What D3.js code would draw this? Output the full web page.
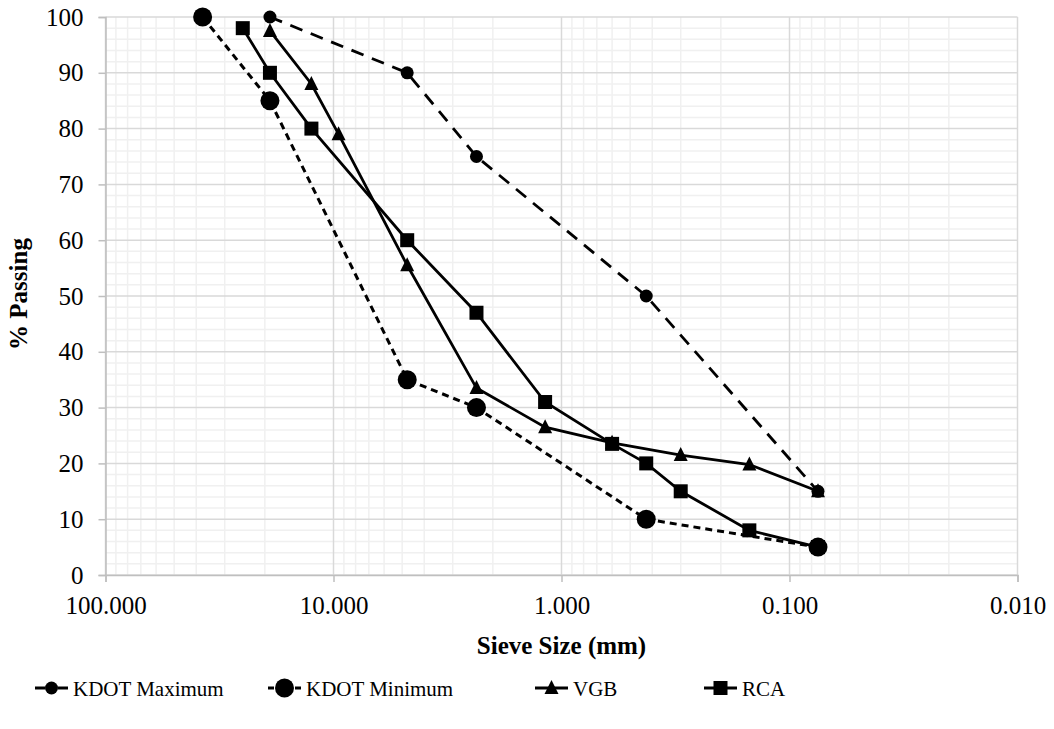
<!DOCTYPE html>
<html lang="en">
<head>
<meta charset="UTF-8">
<script src="https://d3js.org/d3.v7.min.js"></script>
<title>gradation</title>
</head>
<body style="margin:0; background:#fff">
<script>
// sieve sizes (mm) and % passing per series
var maxSieve = [19, 4.75, 2.36, 0.425, 0.075];
var maxPass  = [100, 90, 75, 50, 15];

var minSieve = [37.5, 19, 4.75, 2.36, 0.425, 0.075];
var minPass  = [100, 85, 35, 30, 10, 5];

var vgbSieve = [19, 12.5, 9.5, 4.75, 2.36, 1.18, 0.6, 0.3, 0.15, 0.075];
var vgbPass  = [97.5, 88, 79, 55.5, 33.5, 26.5, 23.7, 21.5, 19.8, 15];

var rcaSieve = [25, 19, 12.5, 4.75, 2.36, 1.18, 0.6, 0.425, 0.3, 0.15, 0.075];
var rcaPass  = [98, 90, 80, 60, 47, 31, 23.5, 20, 15, 8, 5];

var xTicks = [100, 10, 1, 0.1, 0.01];
var yTicks = [0, 10, 20, 30, 40, 50, 60, 70, 80, 90, 100];

var width = 1054, height = 729;
var pLeft = 105.5, pRight = 1017.5, pTop = 17, pBottom = 575;
var FONT = "Liberation Serif";

var svg = d3.select("body").append("svg").attr("width", width).attr("height", height);

var x = d3.scaleLog().domain([100, 0.01]).range([pLeft, pRight]);
var y = d3.scaleLinear().domain([0, 100]).range([pBottom, pTop]);

// minor grid
var minorX = [];
[10, 1, 0.1, 0.01].forEach(function(d) {
  for (var k = 2; k <= 9; k++) minorX.push(d * k);
});
var minorY = d3.range(0, 101, 2).filter(function(v) { return v % 10 != 0; });

var grid = svg.append("g");
grid.selectAll(".mx").data(minorX).enter().append("line")
  .attr("x1", function(d) { return x(d); }).attr("x2", function(d) { return x(d); })
  .attr("y1", pTop).attr("y2", pBottom)
  .attr("stroke", "#f0f0f0").attr("stroke-width", 1.5);
grid.selectAll(".my").data(minorY).enter().append("line")
  .attr("x1", pLeft).attr("x2", pRight)
  .attr("y1", function(d) { return y(d); }).attr("y2", function(d) { return y(d); })
  .attr("stroke", "#f0f0f0").attr("stroke-width", 1.5);
grid.selectAll(".Mx").data(xTicks).enter().append("line")
  .attr("x1", function(d) { return x(d); }).attr("x2", function(d) { return x(d); })
  .attr("y1", pTop).attr("y2", pBottom)
  .attr("stroke", "#d9d9d9").attr("stroke-width", 1.5);
grid.selectAll(".My").data(yTicks).enter().append("line")
  .attr("x1", pLeft).attr("x2", pRight)
  .attr("y1", function(d) { return y(d); }).attr("y2", function(d) { return y(d); })
  .attr("stroke", "#d9d9d9").attr("stroke-width", 1.5);

// axes
var yAxis = svg.append("g").attr("transform", "translate(" + pLeft + ",0)")
  .call(d3.axisLeft(y).tickValues(yTicks).tickSize(7).tickPadding(15));
var xAxis = svg.append("g").attr("transform", "translate(0," + pBottom + ")")
  .call(d3.axisBottom(x).tickValues(xTicks).tickSize(7).tickPadding(14)
    .tickFormat(function(d) { return d.toFixed(3); }));
[xAxis, yAxis].forEach(function(a) {
  a.attr("font-family", FONT).attr("font-size", 25);
  a.selectAll("path, line").attr("stroke", "#bfbfbf").attr("stroke-width", 1.5);
  a.selectAll("text").attr("fill", "#000");
});

// axis titles
svg.append("text").attr("x", (pLeft + pRight) / 2).attr("y", 654)
  .attr("text-anchor", "middle").attr("font-family", FONT)
  .attr("font-size", 25).attr("font-weight", "bold")
  .text("Sieve Size (mm)");
svg.append("text").attr("transform", "translate(27,294) rotate(-90)")
  .attr("text-anchor", "middle").attr("font-family", FONT)
  .attr("font-size", 25).attr("font-weight", "bold")
  .text("% Passing");

var series = [
  { name: "KDOT Maximum", sx: maxSieve, py: maxPass, dash: "13,9", legDash: "10,13,10", w: 2.8, mark: "circle", size: 6.5 },
  { name: "KDOT Minimum", sx: minSieve, py: minPass, dash: "7,5", legDash: "6,3", w: 3, mark: "circle", size: 9.5 },
  { name: "VGB", sx: vgbSieve, py: vgbPass, dash: null, legDash: null, w: 2.8, mark: "triangle", size: 7 },
  { name: "RCA", sx: rcaSieve, py: rcaPass, dash: null, legDash: null, w: 2.8, mark: "square", size: 7 }
];

function drawMark(g, s, cx, cy) {
  if (s.mark == "circle") {
    g.append("circle").attr("cx", cx).attr("cy", cy).attr("r", s.size).attr("fill", "#000");
  } else if (s.mark == "square") {
    g.append("rect").attr("x", cx - s.size).attr("y", cy - s.size)
      .attr("width", s.size * 2).attr("height", s.size * 2).attr("fill", "#000");
  } else {
    var r = s.size;
    g.append("path").attr("d", "M" + cx + "," + (cy - r - 1) + "L" + (cx + r) + "," + (cy + r - 1) +
      "L" + (cx - r) + "," + (cy + r - 1) + "Z").attr("fill", "#000");
  }
}

var line = d3.line().x(function(d) { return x(d[0]); }).y(function(d) { return y(d[1]); });

series.forEach(function(s) {
  var pts = s.sx.map(function(v, i) { return [v, s.py[i]]; });
  var g = svg.append("g");
  g.append("path").attr("d", line(pts)).attr("fill", "none").attr("stroke", "#000")
    .attr("stroke-width", s.w).attr("stroke-dasharray", s.dash);
  pts.forEach(function(p) { drawMark(g, s, x(p[0]), y(p[1])); });
});

// legend
var legX = [35, 268, 535, 704];
var legY = 688;
series.forEach(function(s, i) {
  var g = svg.append("g");
  var x0 = legX[i], x1 = x0 + 33;
  g.append("line").attr("x1", x0).attr("x2", x1).attr("y1", legY).attr("y2", legY)
    .attr("stroke", "#000").attr("stroke-width", s.w).attr("stroke-dasharray", s.legDash);
  drawMark(g, s, (x0 + x1) / 2, legY);
  g.append("text").attr("x", x1 + 5).attr("y", legY + 8)
    .attr("font-family", FONT).attr("font-size", 21).text(s.name);
});
</script>
</body>
</html>
